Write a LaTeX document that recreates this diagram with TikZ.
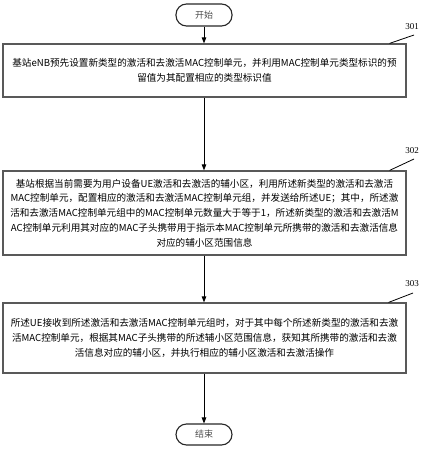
\documentclass[tikz,border=0pt]{standalone}
\usepackage{fontspec}
\setmainfont{Liberation Serif}
\newfontfamily\cjk{Noto Sans CJK SC}
\usepackage{tikz}
\usetikzlibrary{arrows.meta,positioning,calc}
\tikzset{
  termbox/.style={rectangle, rounded corners=10.5pt, draw=black!85, line width=1.1pt,
                  minimum width=56pt, minimum height=22pt, inner sep=0pt,
                  font=\cjk\fontsize{9}{11}\selectfont, text=black!70},
  stepbox/.style={rectangle, draw=black!65, line width=1.2pt, minimum width=403pt,
                  inner sep=0pt, align=center,
                  font=\cjk\fontsize{9.6}{14.8}\selectfont},
  flow/.style={-{Triangle[length=6pt,width=4.5pt]}, line width=0.9pt},
  tagline/.style={line width=0.8pt},
  tag/.style={font=\fontsize{9}{11}\selectfont},
}
\begin{document}
\begin{tikzpicture}[x=1pt,y=-1pt]
  \useasboundingbox (0,0) rectangle (424,450);
  % terminals
  \node[termbox] (start) at (204,15) {开始};
  \node[termbox, minimum height=21pt] (end) at (204,434.5) {结束};
  % steps
  \node[stepbox, minimum height=53pt] (s301) at (204.5,70.5)
    {基站eNB预先设置新类型的激活和去激活MAC控制单元，并利用MAC控制单元类型标识的预\\
     留值为其配置相应的类型标识值};
  \node[stepbox, minimum height=84pt] (s302) at (204.5,213)
    {基站根据当前需要为用户设备UE激活和去激活的辅小区，利用所述新类型的激活和去激活\\
     MAC控制单元，配置相应的激活和去激活MAC控制单元组，并发送给所述UE；其中，所述激\\
     活和去激活MAC控制单元组中的MAC控制单元数量大于等于1，所述新类型的激活和去激活M\\
     AC控制单元利用其对应的MAC子头携带用于指示本MAC控制单元所携带的激活和去激活信息\\
     对应的辅小区范围信息};
  \node[stepbox, minimum height=70pt] (s303) at (204.5,338)
    {所述UE接收到所述激活和去激活MAC控制单元组时，对于其中每个所述新类型的激活和去激\\
     活MAC控制单元，根据其MAC子头携带的所述辅小区范围信息，获知其所携带的激活和去激\\
     活信息对应的辅小区，并执行相应的辅小区激活和去激活操作};
  % arrows
  \draw[flow] (start) -- (s301.north -| start);
  \draw[flow] (s301.south -| start) -- (s302.north -| start);
  \draw[flow] (s302.south -| start) -- (s303.north -| start);
  \draw[flow] (s303.south -| start) -- (end);
  % step numbers
  \node[tag] (t301) at (412,27) {301};
  \node[tag] (t302) at (412,151) {302};
  \node[tag] (t303) at (412,284) {303};
  \coordinate (e301) at (414,35);
  \coordinate (e302) at (414,159);
  \coordinate (e303) at (413,293);
  \draw[tagline] ([xshift=-17pt]s301.north east) -- (e301);
  \draw[tagline] ([xshift=-17pt]s302.north east) -- (e302);
  \draw[tagline] ([xshift=-18pt]s303.north east) -- (e303);
\end{tikzpicture}
\end{document}
